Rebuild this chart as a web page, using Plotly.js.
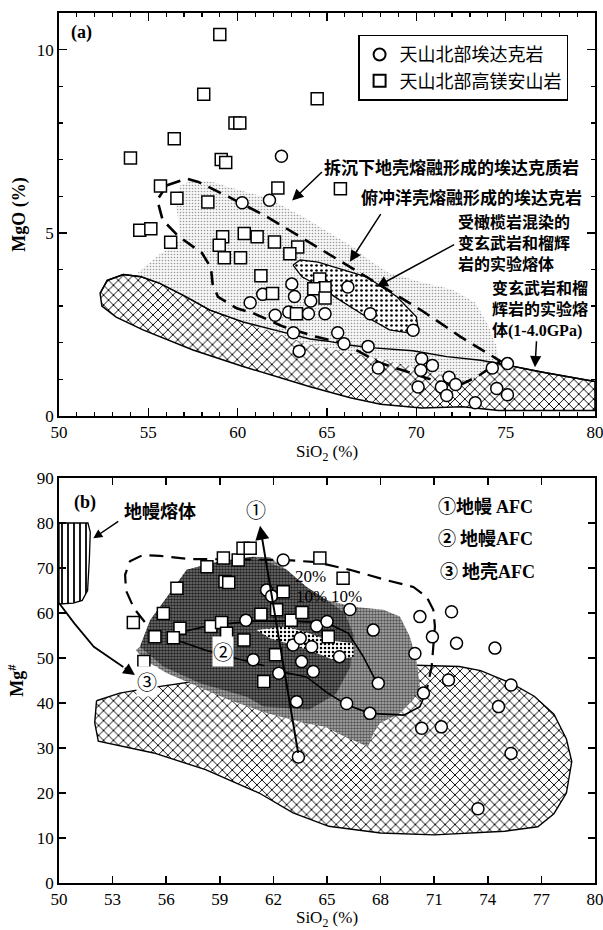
<!DOCTYPE html>
<html><head><meta charset="utf-8">
<script src="https://cdn.plot.ly/plotly-3.0.1.min.js"></script>
<style>body{margin:0;background:#fff}#chart{width:603px;height:930px}</style>
</head><body><div id="chart"></div>
<script>
// ---------- Panel (a): SiO2 vs MgO ----------
const adakiteA_x = [62.45,60.25,61.78,63.03,66.17,63.18,61.4,60.7,64.09,62.1,62.86,63.96,64.89,67.42,69.82,63.12,65.6,65.95,67.3,63.44,70.3,70.9,70.25,67.87,71.83,71.4,72.2,70.1,71.7,73.3,74.25,75.1,74.5,75.1];
const adakiteA_y = [7.09,5.82,5.89,3.6,3.52,3.26,3.32,3.09,3.14,2.75,2.84,2.79,2.79,2.79,2.34,2.27,2.27,1.97,1.9,1.77,1.56,1.38,1.25,1.31,1.06,0.79,0.86,0.79,0.56,0.36,1.31,1.43,0.75,0.58];
const hmaA_x = [59.0,58.1,64.45,59.85,60.12,56.45,54.0,59.08,59.33,62.25,65.75,55.68,56.6,58.33,54.52,55.14,56.25,59.16,58.97,60.37,61.09,62.06,63.36,62.92,59.25,60.16,61.3,61.95,64.59,64.89,64.26,64.89,63.29];
const hmaA_y = [10.41,8.78,8.66,8.0,8.0,7.57,7.04,7.0,6.92,6.22,6.2,6.28,5.94,5.84,5.07,5.11,4.74,4.89,4.66,4.98,4.89,4.75,4.61,4.43,4.32,4.32,3.83,3.34,3.74,3.5,3.47,3.22,2.79];

// field: metabasalt & eclogite experimental melts (1-4.0 GPa)
const xhA_x = [52.3,52.7,53.6,54.6,55.65,57.1,58.45,60.3,62.2,64.05,65.2,66.3,67.6,69.8,71.7,73.6,75.05,77,80,80,77,74.6,72.6,70.3,68,66.3,64.05,62.2,60.3,57.5,54.7,53.2,52.4,52.3];
const xhA_y = [3.35,3.7,3.86,3.8,3.62,3.26,2.89,2.57,2.33,2.1,2.03,1.93,1.86,1.78,1.62,1.52,1.39,1.2,0.94,0.15,0.15,0.15,0.25,0.22,0.32,0.5,0.8,1.07,1.35,1.8,2.35,2.7,3.0,3.35];
// field: subducted oceanic crust adakites (stipple)
const stA_x = [54.4,55.6,56.8,56.7,56.5,56.8,57.5,58.5,59.5,61.7,63.8,65.5,66.5,67.5,68.5,70.3,72,73.3,74,74.5,74.6,74.2,73.3,72.5,71.5,70,68.5,67,65.5,64,62.5,61,60,58.5,57.1,55.65,54.6,54.4];
const stA_y = [3.9,4.4,4.8,5.3,5.9,6.3,6.45,6.4,6.25,5.95,5.4,4.9,4.6,4.2,3.9,3.65,3.45,3.1,2.5,1.9,1.5,1.25,1.05,0.95,1.1,1.3,1.5,1.65,1.8,1.95,2.2,2.45,2.62,2.9,3.27,3.63,3.82,3.9];
// field: peridotite-contaminated metabasalt/eclogite melts (dotted)
const dotA_x = [63.1,63.5,64.5,65.35,67.2,68.9,70.0,70.1,69.65,68.5,67.2,65.7,64.6,63.6,63.1];
const dotA_y = [4.12,4.26,4.2,4.07,3.8,3.26,2.71,2.39,2.26,2.35,2.71,3.17,3.53,3.8,4.12];
// field: delaminated lower crust adakitic rocks (dashed)
const dashA_x = [56.05,57.13,57.8,59.5,61.67,63.83,66,68.15,70.3,72.48,74.7,73.4,72.25,70.6,67.96,65.9,64.4,62.55,60.9,59.95,58.9,58.6,58.5,58,56.7,55.8,55.5,56.05];
const dashA_y = [6.3,6.48,6.39,5.98,5.43,4.8,4.16,3.52,2.88,2.16,1.5,1.07,0.8,1.03,1.45,1.99,2.16,2.44,2.8,2.94,3.25,3.6,4.05,4.45,4.9,5.35,5.9,6.3];

// ---------- Panel (b): SiO2 vs Mg# ----------
const adakiteB_x = [62.55,61.62,61.9,60.46,60.87,63.1,63.5,64.14,64.42,65.0,63.58,64.23,65.7,66.28,67.59,67.87,66.1,67.4,63.3,69.92,70.2,71.97,70.9,72.25,70.4,71.8,70.3,71.4,74.4,75.3,74.6,75.3,73.45,63.4,62.3];
const adakiteB_y = [71.8,65.1,63.8,58.4,49.6,52.9,54.4,52.5,57.1,58.1,49.2,47.0,50.3,60.8,56.2,44.4,39.9,37.7,40.3,51.0,59.2,60.3,54.7,53.3,42.2,45.1,34.4,34.7,52.2,44.0,39.2,28.8,16.5,28.0,46.6];
const hmaB_x = [54.16,54.75,55.37,55.84,56.6,56.77,56.4,58.28,59.29,59.5,59.2,60.03,60.3,60.7,58.5,59.1,59.38,60.35,61.3,62.55,62.18,63.0,63.6,64.6,65.9,62.12,61.46,65.07];
const hmaB_y = [57.9,49.2,54.7,59.9,65.5,56.6,54.5,70.3,67.0,66.8,72.2,71.8,74.4,74.4,57.0,57.9,55.5,54.0,59.7,64.7,60.7,58.4,60.1,72.2,67.7,50.7,44.8,54.7];

const xhB_x = [52.1,53.4,55,57,59,61.4,63,66,69,72.4,73.6,75.3,76.6,77.7,78.4,78.7,78.4,77.7,76.8,74.95,71,68,65.1,63.1,61.2,58.2,55.3,52.2,52,52.1];
const xhB_y = [40.5,42.2,43.3,44.4,45.6,47.6,48.2,48.5,48.5,48.1,47.2,44.4,41.5,37.5,32,27,20,15.4,12.5,11.5,10.7,11.1,12.6,15.6,20,25.2,28.9,31.5,35.6,40.5];
const grayB_x = [54.53,55.1,56.2,57.15,59,60.87,61.8,62.74,63.86,64.98,66.47,68.15,69.08,69.64,70.0,70.2,69.83,69.08,67.96,67.6,67.3,66.0,64.9,63.8,61.67,59.5,57.8,56.05,54.75,54.3,54.53];
const grayB_y = [52.5,58.4,64.4,69.6,71.5,72.5,72.4,69.6,65.8,62.9,61.4,60.7,59.2,54.7,49.6,43.6,40.7,37.7,35.5,33.3,30.3,32.5,34.7,35.5,37.7,40.7,43.6,46.6,49.6,51.8,52.5];
const darkB_x = [54.53,55.1,56.2,57.15,59,60.87,62.74,63.86,64.98,66.0,66.5,66.3,65.5,64.0,61.43,60.5,57.9,55.84,54.53];
const darkB_y = [52.5,58.4,64.4,69.6,71.5,72.5,69.6,65.8,62.9,60.0,55.0,48.0,42.0,38.5,39.2,41.4,44.4,48.1,52.5];
const dotB_x = [61.06,62.7,64.0,65.0,66.47,66.5,65.35,64.23,63.0,61.8,61.06];
const dotB_y = [56.2,57.0,55.5,54.0,53.3,50.3,49.6,51.4,53.0,54.4,56.2];
const mantle_x = [50,50,51.62,51.75,51.7,51.6,51.3,50.8,50];
const mantle_y = [62,80,80,78,72,65,62.8,62.2,62];
const dashB_x = [54.8,54.2,53.75,53.7,53.97,54.7,55.65,57.3,60,62.55,64.42,66.28,68.34,69.83,70.58,70.95,71.04,70.95,70.86,70.58,70.3];
const dashB_y = [58.0,61,65,68.5,71.5,72.9,72.7,72.0,71.9,71.8,71.3,69.6,67.3,65.8,63.6,60.7,57.0,51.8,48.1,42.9,40.7];
const afc2a_x = [56.6,58.5,61,63,65,66.2,67,67.8];
const afc2a_y = [55.5,57.3,58.2,58.2,57.8,55.5,50.5,44.4];
const afc2b_x = [56.4,58.3,60.2,61.5];
const afc2b_y = [54.2,51.6,49.6,48.3];
const afc2c_x = [62,63.86,65,66.1,67.4,69.3,70.2,70.5];
const afc2c_y = [47.3,45.8,42.3,39.6,37.7,37.3,39.2,42];
const afc3_x = [50,50.86,51.95,53.0,53.6];
const afc3_y = [62.2,57.7,52.5,49.6,48.0];

const CJK = 'Noto Sans CJK SC';
const SERIF = 'Liberation Serif';
const circ = {symbol:'circle', size:12, color:'#fff', line:{color:'#000', width:1.5}};
const sq = {symbol:'square', size:12, color:'#fff', line:{color:'#000', width:1.5}};

function region(x, y, xa, ya, pat, line){
  return {type:'scatter', mode:'lines', x, y, xaxis:xa, yaxis:ya, fill:'toself',
    fillpattern:pat, line: line || {width:0, color:'rgba(0,0,0,0)'}, hoverinfo:'skip', showlegend:false};
}
function curve(x, y, xa, ya, line){
  return {type:'scatter', mode:'lines', x, y, xaxis:xa, yaxis:ya, line, hoverinfo:'skip', showlegend:false};
}

const traces = [
  region(xhA_x, xhA_y, 'x','y', {shape:'x', size:7, solidity:0.25, fgcolor:'#000', bgcolor:'#fff'}, {color:'#000', width:1.5}),
  region(stA_x, stA_y, 'x','y', {shape:'.', size:3, solidity:0.22, fgcolor:'#9a9a9a', bgcolor:'#f7f7f7'}),
  curve(xhA_x.slice(0,19), xhA_y.slice(0,19), 'x','y', {color:'#000', width:1.4}),
  region(dotA_x, dotA_y, 'x','y', {shape:'.', size:5, solidity:0.22, fgcolor:'#000', bgcolor:'#fff'}, {color:'#000', width:1.3}),
  curve(dashA_x, dashA_y, 'x','y', {color:'#000', width:2.6, dash:'14px,8px'}),
  {type:'scatter', mode:'markers', name:'天山北部埃达克岩', x:adakiteA_x, y:adakiteA_y, xaxis:'x', yaxis:'y', marker:circ},
  {type:'scatter', mode:'markers', name:'天山北部高镁安山岩', x:hmaA_x, y:hmaA_y, xaxis:'x', yaxis:'y', marker:sq},

  region(xhB_x, xhB_y, 'x2','y2', {shape:'x', size:7, solidity:0.25, fgcolor:'#000', bgcolor:'#fff'}, {color:'#000', width:1.4}),
  region(grayB_x, grayB_y, 'x2','y2', {shape:'.', size:3, solidity:0.55, fgcolor:'#555', bgcolor:'#b4b4b4'}),
  region(darkB_x, darkB_y, 'x2','y2', {shape:'.', size:3, solidity:0.6, fgcolor:'#222', bgcolor:'#7a7a7a'}),
  region(dotB_x, dotB_y, 'x2','y2', {shape:'.', size:4, solidity:0.3, fgcolor:'#000', bgcolor:'#fff'}),
  region(mantle_x, mantle_y, 'x2','y2', {shape:'|', size:6, solidity:0.3, fgcolor:'#000', bgcolor:'#fff'}, {color:'#000', width:1.3}),
  curve(dashB_x, dashB_y, 'x2','y2', {color:'#000', width:2.2, dash:'14px,8px'}),
  curve(afc2a_x, afc2a_y, 'x2','y2', {color:'#000', width:1.6}),
  curve(afc2b_x, afc2b_y, 'x2','y2', {color:'#000', width:1.6}),
  curve(afc2c_x, afc2c_y, 'x2','y2', {color:'#000', width:1.6}),
  curve(afc3_x, afc3_y, 'x2','y2', {color:'#000', width:1.8}),
  {type:'scatter', mode:'markers', name:'天山北部埃达克岩', x:adakiteB_x, y:adakiteB_y, xaxis:'x2', yaxis:'y2', marker:circ, showlegend:false},
  {type:'scatter', mode:'markers', name:'天山北部高镁安山岩', x:hmaB_x, y:hmaB_y, xaxis:'x2', yaxis:'y2', marker:sq, showlegend:false}
];

function txt(x, y, text, xr, yr, o){
  return Object.assign({x, y, xref:xr, yref:yr, text, showarrow:false, xanchor:'left', yanchor:'middle',
    font:{family:CJK, size:17, color:'#000', weight:'bold'}}, o||{});
}
function arr(hx, hy, tx, ty, xr, yr, o){
  return Object.assign({x:hx, y:hy, ax:tx, ay:ty, xref:xr, yref:yr, axref:xr, ayref:yr, text:'', showarrow:true,
    arrowhead:2, arrowsize:1.5, arrowwidth:1.5, arrowcolor:'#000', standoff:0, startstandoff:0}, o||{});
}
const ser = s => `<span style="font-family:${SERIF}">${s}</span>`;
const f16 = {font:{family:CJK, size:16, color:'#000', weight:'bold'}, align:'left'};

const annotations = [
  txt(50.55, 10.47, '(a)', 'x','y', {font:{family:SERIF, size:18, weight:'bold', color:'#000'}}),
  txt(64.7, 6.82, '拆沉下地壳熔融形成的埃达克质岩', 'x','y'),
  txt(66.8, 5.99, '俯冲洋壳熔融形成的埃达克岩', 'x','y'),
  txt(72.2, 4.74, '受橄榄岩混染的<br>变玄武岩和榴辉<br>岩的实验熔体', 'x','y', f16),
  txt(74.15, 2.94, '变玄武岩和榴<br>辉岩的实验熔<br>体' + ser('(1-4.0GPa)'), 'x','y', f16),
  arr(63.05, 5.88, 64.8, 6.7, 'x','y'),
  arr(66.28, 4.21, 68.06, 5.55, 'x','y'),
  arr(67.78, 3.53, 72.2, 4.7, 'x','y'),
  arr(76.64, 1.33, 76.73, 2.08, 'x','y'),

  txt(50.7, 84.6, '(b)', 'x2','y2', {font:{family:SERIF, size:18, weight:'bold', color:'#000'}}),
  txt(55.65, 82.9, '地幔熔体', 'x2','y2', {xanchor:'center', font:{family:CJK, size:18, weight:'bold', color:'#000'}}),
  arr(51.92, 76.6, 53.4, 80.6, 'x2','y2', {arrowsize:1.2}),
  txt(61.05, 82.9, '①', 'x2','y2', {xanchor:'center', font:{family:CJK, size:20, color:'#000'}}),
  arr(61.25, 79.4, 63.4, 28.6, 'x2','y2', {arrowwidth:2, arrowsize:1.4}),
  arr(54.25, 46.2, 53.6, 48.0, 'x2','y2', {arrowwidth:1.8, arrowsize:1.3}),
  txt(59.2, 51.4, '②', 'x2','y2', {xanchor:'center', bgcolor:'#fff', borderpad:0, font:{family:CJK, size:20, color:'#000'}}),
  txt(54.9, 44.7, '③', 'x2','y2', {xanchor:'center', bgcolor:'#fff', borderpad:0, font:{family:CJK, size:20, color:'#000'}}),
  txt(64.05, 68.1, '20%', 'x2','y2', {xanchor:'center', font:{family:SERIF, size:17, color:'#000'}}),
  txt(64.14, 63.6, '10%', 'x2','y2', {xanchor:'center', font:{family:SERIF, size:17, color:'#000'}}),
  txt(66.1, 63.6, '10%', 'x2','y2', {xanchor:'center', font:{family:SERIF, size:17, color:'#000'}}),
  txt(71.1, 84.0, '①地幔 ' + ser('AFC'), 'x2','y2', {font:{family:CJK, size:18, weight:'bold', color:'#000'}}),
  txt(71.1, 77.0, '② 地幔' + ser('AFC'), 'x2','y2', {font:{family:CJK, size:18, weight:'bold', color:'#000'}}),
  txt(71.2, 69.6, '③ 地壳' + ser('AFC'), 'x2','y2', {font:{family:CJK, size:18, weight:'bold', color:'#000'}})
];

const axBase = {showgrid:false, zeroline:false, showline:true, linecolor:'#000', linewidth:1.8, mirror:'ticks',
  ticks:'inside', tickcolor:'#000', tickwidth:1.5, ticklen:8, ticklabeloverflow:'allow',
  tickfont:{family:SERIF, size:17, color:'#000'}};

const layout = {
  width:603, height:930, paper_bgcolor:'#fff', plot_bgcolor:'#fff',
  margin:{l:59, r:8, t:13, b:47},
  font:{family:SERIF, color:'#000'},
  showlegend:true,
  legend:{x:0.558, y:0.975, xanchor:'left', yanchor:'top', bordercolor:'#000', borderwidth:1.5, bgcolor:'#fff',
    font:{family:CJK, size:18, color:'#000'}, itemsizing:'constant', tracegroupgap:0},
  xaxis: Object.assign({}, axBase, {domain:[0,1], anchor:'y', range:[50,80], tick0:50, dtick:5,
    minor:{dtick:1, ticks:'inside', ticklen:4, tickwidth:1.2, tickcolor:'#000'},
    title:{text:'SiO<sub>2</sub> (%)', font:{family:SERIF, size:17, color:'#000'}, standoff:2}}),
  yaxis: Object.assign({}, axBase, {domain:[0.5368,1], anchor:'x', range:[0,11], tick0:0, dtick:5,
    minor:{dtick:1, ticks:'inside', ticklen:4, tickwidth:1.2, tickcolor:'#000'},
    title:{text:'<b>MgO (%)</b>', font:{family:SERIF, size:18, color:'#000'}, standoff:6}}),
  xaxis2: Object.assign({}, axBase, {domain:[0,1], anchor:'y2', range:[50,80], tick0:50, dtick:3, ticklen:7,
    title:{text:'SiO<sub>2</sub> (%)', font:{family:SERIF, size:17, color:'#000'}, standoff:2}}),
  yaxis2: Object.assign({}, axBase, {domain:[0,0.4655], anchor:'x2', range:[0,90], tick0:0, dtick:10, ticklen:7,
    title:{text:'<b>Mg<sup>#</sup></b>', font:{family:SERIF, size:18, color:'#000'}, standoff:8}}),
  annotations
};

Plotly.newPlot('chart', traces, layout, {displayModeBar:false, staticPlot:true});
</script></body></html>
